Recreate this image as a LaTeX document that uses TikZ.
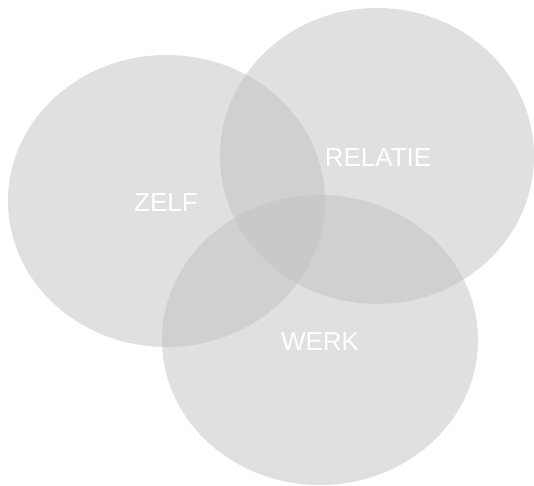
\documentclass[tikz,border=0pt]{standalone}
\usepackage{fontspec}
\setmainfont{Liberation Sans}
\definecolor{circgray}{RGB}{193,193,193}
\begin{document}
\begin{tikzpicture}[x=1pt,y=1pt,
  circ/.style={fill=circgray,fill opacity=0.5,draw=none},
  lbl/.style={text=white,font=\fontsize{26}{31}\selectfont,inner sep=0pt}]
\useasboundingbox (0,0) rectangle (534,-485);
\fill[circ] (166.5,-201) ellipse [x radius=158.5, y radius=146];
\fill[circ] (377,-156) ellipse [x radius=157, y radius=148];
\fill[circ] (320,-340) ellipse [x radius=158, y radius=145];
\node[lbl] (zelf) at (166,-203) {ZELF};
\node[lbl] (relatie) at (378,-158) {RELATIE};
\node[lbl] (werk) at (320,-342) {WERK};
\end{tikzpicture}
\end{document}
